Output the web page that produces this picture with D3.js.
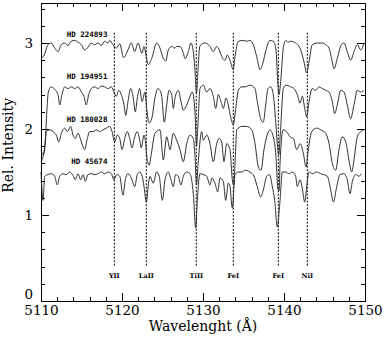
<!DOCTYPE html>
<html>
<head>
<meta charset="utf-8">
<title>Spectra</title>
<script src="https://d3js.org/d3.v7.min.js"></script>
<style>
 body { margin:0; background:#fff; }
 .axis path, .axis line { fill:none; stroke:#000; shape-rendering:crispEdges; }
 .axis text { font-family:"DejaVu Serif", serif; font-size:13.5px; fill:#000; }
 .spec { fill:none; stroke:#262626; stroke-width:0.95; }
 .star { font:bold 7.5px "DejaVu Sans Mono", monospace; fill:#000; }
 .ion { font:bold 6.5px "DejaVu Serif", serif; fill:#000; }
 .title { font-family:"DejaVu Serif", serif; font-size:14px; fill:#000; }
</style>
</head>
<body>
<div id="chart"></div>
<script>
// spectra: [wavelength, relative intensity]
var hd224893 = [[5110.0,2.82],[5110.4,2.86],[5110.86,2.98],[5111.27,3.0],[5111.69,2.94],[5112.1,2.9],[5112.5,2.98],[5112.93,3.0],[5113.33,2.97],[5113.74,3.02],[5114.16,3.03],[5114.57,3.01],[5114.98,2.98],[5115.4,2.92],[5115.8,2.95],[5116.2,3.0],[5116.6,2.98],[5117.04,3.0],[5117.44,2.97],[5117.86,3.02],[5118.27,3.0],[5118.48,3.03],[5118.89,2.98],[5119.3,2.94],[5119.72,2.99],[5120.2,2.83],[5120.74,2.92],[5121.15,3.0],[5121.57,2.9],[5121.98,3.0],[5122.47,2.88],[5122.72,2.96],[5123.0,2.84],[5123.25,2.75],[5123.67,2.82],[5124.28,3.0],[5124.69,2.94],[5125.1,2.82],[5125.4,2.79],[5125.72,2.92],[5126.14,2.96],[5126.5,2.94],[5126.75,2.96],[5127.16,2.96],[5127.57,2.88],[5127.78,2.82],[5128.19,2.9],[5128.52,3.0],[5128.8,2.9],[5129.0,2.7],[5129.2,2.42],[5129.4,2.72],[5129.63,2.97],[5130.25,3.0],[5130.86,2.96],[5131.27,2.9],[5131.69,2.96],[5131.95,2.93],[5132.43,2.82],[5132.72,2.8],[5133.0,2.86],[5133.33,2.8],[5133.74,2.69],[5133.95,2.84],[5134.36,3.02],[5134.98,3.03],[5135.4,3.02],[5135.8,3.03],[5136.21,2.98],[5136.63,2.84],[5137.04,2.69],[5137.37,2.76],[5137.78,2.92],[5138.27,3.03],[5138.68,3.02],[5139.01,2.92],[5139.2,2.6],[5139.38,2.4],[5139.59,2.55],[5139.91,2.94],[5140.21,3.03],[5140.5,3.01],[5140.83,3.02],[5141.44,3.0],[5142.06,2.92],[5142.47,2.78],[5142.8,2.65],[5143.09,2.78],[5143.49,2.98],[5144.16,3.0],[5144.73,3.0],[5145.15,2.98],[5145.56,2.94],[5145.96,2.78],[5146.17,2.7],[5146.58,2.82],[5147.07,2.98],[5147.41,3.0],[5147.81,2.9],[5148.23,2.8],[5148.64,2.9],[5149.05,2.98],[5149.47,2.92],[5149.88,3.0]];

var hd194951 = [[5110.0,1.62],[5110.3,1.7],[5110.55,1.9],[5110.75,2.25],[5110.9,2.43],[5111.27,2.49],[5111.69,2.46],[5112.1,2.4],[5112.31,2.28],[5112.59,2.4],[5112.93,2.49],[5113.33,2.47],[5113.74,2.49],[5114.16,2.47],[5114.57,2.49],[5114.98,2.43],[5115.31,2.38],[5115.59,2.28],[5115.89,2.4],[5116.21,2.47],[5116.63,2.49],[5117.04,2.47],[5117.44,2.5],[5117.86,2.49],[5118.27,2.47],[5118.68,2.49],[5119.01,2.43],[5119.3,2.38],[5119.59,2.45],[5119.91,2.4],[5120.25,2.28],[5120.46,2.16],[5120.74,2.32],[5121.07,2.47],[5121.36,2.38],[5121.64,2.2],[5121.89,2.36],[5122.19,2.47],[5122.47,2.32],[5122.84,2.43],[5123.05,2.24],[5123.33,2.07],[5123.67,2.12],[5124.07,2.36],[5124.41,2.47],[5124.69,2.45],[5124.9,2.38],[5125.22,2.08],[5125.52,2.28],[5125.8,2.45],[5126.14,2.4],[5126.33,2.24],[5126.54,2.36],[5126.95,2.45],[5127.28,2.32],[5127.57,2.22],[5127.99,2.28],[5128.4,2.38],[5128.68,2.43],[5129.01,2.2],[5129.2,1.8],[5129.4,2.1],[5129.63,2.47],[5130.04,2.51],[5130.46,2.43],[5130.86,2.47],[5131.27,2.38],[5131.57,2.24],[5131.89,2.4],[5132.22,2.32],[5132.51,2.24],[5132.84,2.36],[5133.12,2.28],[5133.46,2.12],[5133.74,2.05],[5134.04,2.24],[5134.36,2.45],[5134.78,2.49],[5135.19,2.49],[5135.8,2.51],[5136.42,2.47],[5136.7,2.32],[5137.12,2.12],[5137.44,2.08],[5137.74,2.28],[5138.02,2.47],[5138.36,2.49],[5138.68,2.4],[5138.98,2.08],[5139.2,1.8],[5139.35,1.7],[5139.55,1.95],[5139.91,2.47],[5140.21,2.51],[5140.83,2.49],[5141.23,2.47],[5141.64,2.4],[5141.98,2.3],[5142.26,2.38],[5142.56,2.24],[5142.8,2.14],[5143.09,2.32],[5143.49,2.47],[5143.91,2.45],[5144.32,2.49],[5144.73,2.47],[5145.15,2.45],[5145.56,2.43],[5145.96,2.32],[5146.26,2.18],[5146.58,2.28],[5147.0,2.45],[5147.41,2.43],[5147.81,2.28],[5148.23,2.12],[5148.64,2.28],[5149.05,2.45],[5149.47,2.43],[5149.88,2.45]];

var hd180028 = [[5110.0,1.75],[5110.3,1.7],[5110.5,1.8],[5110.65,1.97],[5111.11,1.99],[5111.6,1.96],[5111.89,1.93],[5112.19,1.85],[5112.51,1.95],[5112.93,2.01],[5113.25,1.97],[5113.67,2.03],[5113.95,1.93],[5114.23,1.89],[5114.57,1.95],[5114.98,1.85],[5115.4,1.76],[5115.72,1.89],[5116.01,1.97],[5116.42,1.97],[5116.83,1.99],[5117.24,1.97],[5117.65,1.99],[5118.06,2.01],[5118.48,2.03],[5118.77,1.97],[5119.1,1.85],[5119.42,1.93],[5119.72,1.89],[5120.0,1.76],[5120.33,1.89],[5120.65,1.97],[5120.95,1.89],[5121.23,1.78],[5121.57,1.91],[5121.89,1.97],[5122.19,1.87],[5122.38,1.78],[5122.72,1.93],[5122.9,1.85],[5123.1,1.65],[5123.35,1.58],[5123.6,1.7],[5124.07,1.95],[5124.69,1.99],[5125.1,1.64],[5125.52,1.91],[5125.93,1.76],[5126.33,1.95],[5126.75,1.87],[5127.16,1.76],[5127.57,1.62],[5127.99,1.83],[5128.4,1.93],[5128.8,1.89],[5129.0,1.7],[5129.2,1.35],[5129.4,1.6],[5129.84,1.97],[5130.04,1.87],[5130.46,1.93],[5130.86,1.83],[5131.27,1.62],[5131.69,1.83],[5132.01,1.89],[5132.3,1.85],[5132.59,1.62],[5132.93,1.83],[5133.33,1.76],[5133.62,1.41],[5133.8,1.35],[5134.0,1.7],[5134.16,1.99],[5134.78,2.03],[5135.4,2.03],[5136.01,1.99],[5136.42,1.83],[5136.83,1.56],[5137.16,1.52],[5137.53,1.76],[5137.86,1.91],[5138.27,1.99],[5138.68,1.91],[5139.01,1.68],[5139.25,1.3],[5139.4,1.28],[5139.51,1.6],[5139.91,1.99],[5140.33,1.97],[5140.74,1.91],[5141.16,1.89],[5141.57,1.76],[5141.98,1.83],[5142.38,1.72],[5142.72,1.56],[5143.0,1.76],[5143.42,1.97],[5144.04,2.01],[5144.53,1.99],[5145.15,1.95],[5145.56,1.83],[5145.96,1.6],[5146.38,1.52],[5146.79,1.76],[5147.2,1.91],[5147.62,1.85],[5148.02,1.64],[5148.36,1.5],[5148.64,1.64],[5149.05,1.91],[5149.47,1.97],[5149.88,1.99]];

var hd45674 = [[5110.0,1.5],[5110.15,1.25],[5110.25,1.17],[5110.46,1.45],[5110.86,1.47],[5111.27,1.48],[5111.69,1.45],[5112.01,1.35],[5112.31,1.45],[5112.72,1.48],[5113.1,1.47],[5113.54,1.5],[5113.95,1.46],[5114.23,1.41],[5114.57,1.48],[5114.9,1.41],[5115.19,1.47],[5115.47,1.39],[5115.8,1.47],[5116.21,1.48],[5116.63,1.47],[5117.04,1.48],[5117.44,1.5],[5117.86,1.48],[5118.27,1.5],[5118.68,1.48],[5119.01,1.41],[5119.35,1.47],[5119.72,1.45],[5120.12,1.23],[5120.41,1.41],[5120.74,1.48],[5121.15,1.43],[5121.57,1.33],[5121.89,1.47],[5122.19,1.5],[5122.5,1.45],[5122.72,1.33],[5123.0,1.15],[5123.3,1.39],[5123.46,1.45],[5123.86,1.37],[5124.28,1.5],[5124.6,1.45],[5124.98,1.17],[5125.31,1.41],[5125.72,1.5],[5126.05,1.41],[5126.33,1.33],[5126.63,1.47],[5126.95,1.45],[5127.28,1.35],[5127.57,1.45],[5127.99,1.5],[5128.4,1.48],[5128.8,1.25],[5129.1,0.85],[5129.3,1.17],[5129.63,1.48],[5130.04,1.47],[5130.46,1.45],[5130.86,1.35],[5131.1,1.43],[5131.48,1.37],[5131.81,1.27],[5132.1,1.43],[5132.51,1.39],[5132.8,1.17],[5133.12,1.37],[5133.3,1.35],[5133.62,1.08],[5133.95,1.47],[5134.36,1.5],[5134.8,1.5],[5135.19,1.52],[5135.8,1.5],[5136.3,1.45],[5136.7,1.33],[5137.12,1.21],[5137.44,1.29],[5137.86,1.45],[5138.2,1.47],[5138.56,1.33],[5138.85,1.17],[5139.17,0.86],[5139.51,1.17],[5139.79,1.5],[5140.21,1.5],[5140.6,1.48],[5141.02,1.5],[5141.44,1.45],[5141.64,1.33],[5141.98,1.41],[5142.26,1.31],[5142.56,1.15],[5142.8,1.33],[5143.09,1.5],[5143.5,1.48],[5144.0,1.5],[5144.53,1.48],[5145.35,1.45],[5145.77,1.29],[5146.09,1.15],[5146.51,1.33],[5146.91,1.47],[5147.41,1.48],[5147.81,1.41],[5148.15,1.25],[5148.44,1.39],[5148.85,1.47],[5149.26,1.45],[5149.54,1.48]];

var stars = ["HD 224893", "HD 194951", "HD 180028", "HD 45674"];
var starLabelY = [3.07, 2.58, 2.08, 1.59];
var ions = ["YII", "LaII", "TiII", "FeI", "FeI", "NiI"];
var ionWave = [5119.05, 5123.0, 5129.17, 5133.74, 5139.3, 5142.88];
var xTicks = [5110, 5120, 5130, 5140, 5150];
var yTicks = [0, 1, 2, 3];

var margin = {top:3, right:20, bottom:41, left:41};
var width = 385 - margin.left - margin.right;
var height = 342 - margin.top - margin.bottom;

var x = d3.scaleLinear().domain([5110, 5150]).range([0, width]);
var y = d3.scaleLinear().domain([0, height / 86]).range([height, 0]);

var svg = d3.select("#chart").append("svg")
  .attr("width", 385)
  .attr("height", 342)
  .append("g")
  .attr("transform", "translate(" + margin.left + "," + margin.top + ")");

var xMinor = d3.range(5110, 5151, 2);
var yMinor = d3.range(0, 18).map(function(i) { return i * 0.2; });

// minor ticks on all four sides
svg.append("g").attr("class", "axis").attr("transform", "translate(0," + height + ")")
  .call(d3.axisBottom(x).tickValues(xMinor).tickSize(-4).tickSizeOuter(0).tickFormat(""));
svg.append("g").attr("class", "axis")
  .call(d3.axisTop(x).tickValues(xMinor).tickSize(-4).tickSizeOuter(0).tickFormat(""));
svg.append("g").attr("class", "axis")
  .call(d3.axisLeft(y).tickValues(yMinor).tickSize(-4).tickSizeOuter(0).tickFormat(""));
svg.append("g").attr("class", "axis").attr("transform", "translate(" + width + ",0)")
  .call(d3.axisRight(y).tickValues(yMinor).tickSize(-4).tickSizeOuter(0).tickFormat(""));

// major ticks with labels
svg.append("g").attr("class", "axis").attr("transform", "translate(0," + height + ")")
  .call(d3.axisBottom(x).tickValues(xTicks).tickSize(-8).tickSizeOuter(0).tickPadding(4).tickFormat(d3.format("d")));
svg.append("g").attr("class", "axis")
  .call(d3.axisTop(x).tickValues(xTicks).tickSize(-8).tickSizeOuter(0).tickFormat(""));
var yAxis = svg.append("g").attr("class", "axis")
  .call(d3.axisLeft(y).tickValues(yTicks).tickSize(-8).tickSizeOuter(0).tickPadding(8).tickFormat(d3.format("d")));
// the "0" sits right on the corner, lift it a little off the x labels
yAxis.selectAll(".tick text").filter(function(d) { return d === 0; }).attr("dy", "-0.22em");
svg.append("g").attr("class", "axis").attr("transform", "translate(" + width + ",0)")
  .call(d3.axisRight(y).tickValues(yTicks).tickSize(-8).tickSizeOuter(0).tickFormat(""));

// line identifications
svg.selectAll(".idline")
  .data(ionWave)
  .enter().append("line")
  .attr("class", "idline")
  .attr("x1", function(d) { return x(d); })
  .attr("x2", function(d) { return x(d); })
  .attr("y1", y(3.12))
  .attr("y2", y(0.41))
  .attr("stroke", "#000")
  .attr("stroke-width", 1)
  .attr("stroke-dasharray", "2,1.5");

svg.selectAll(".ion")
  .data(ions)
  .enter().append("text")
  .attr("class", "ion")
  .attr("x", function(d, i) { return x(ionWave[i]); })
  .attr("y", y(0.27))
  .attr("text-anchor", "middle")
  .text(function(d) { return d; });

// spectra
var line = d3.line()
  .x(function(d) { return x(d[0]); })
  .y(function(d) { return y(d[1]); })
  .curve(d3.curveMonotoneX);

[hd224893, hd194951, hd180028, hd45674].forEach(function(s) {
  svg.append("path").datum(s).attr("class", "spec").attr("d", line);
});

svg.selectAll(".star")
  .data(stars)
  .enter().append("text")
  .attr("class", "star")
  .attr("x", x(5118.2))
  .attr("y", function(d, i) { return y(starLabelY[i]); })
  .attr("text-anchor", "end")
  .text(function(d) { return d; });

// axis titles
svg.append("text")
  .attr("class", "title")
  .attr("x", width / 2)
  .attr("y", height + 30)
  .attr("text-anchor", "middle")
  .text("Wavelenght (\u00c5)");

svg.append("text")
  .attr("class", "title")
  .attr("transform", "translate(-28," + y(1.81) + ") rotate(-90)")
  .attr("text-anchor", "middle")
  .text("Rel. Intensity");
</script>
</body>
</html>
